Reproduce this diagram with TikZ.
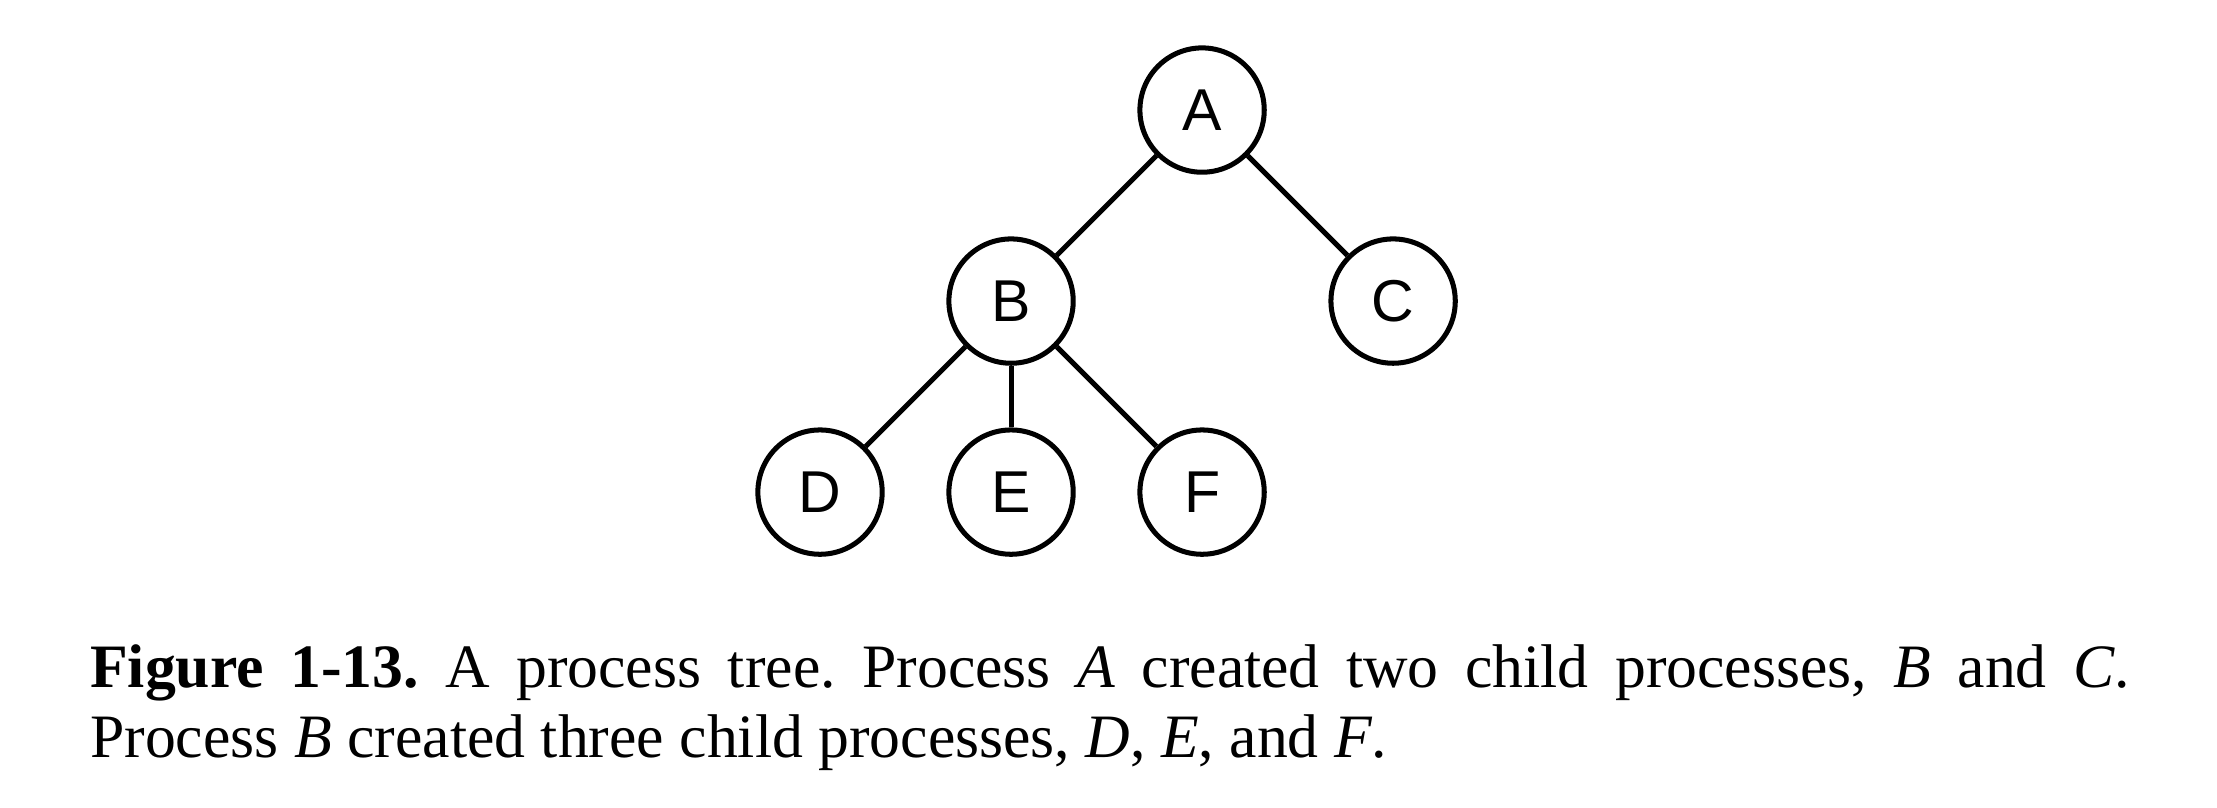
\documentclass[tikz,border=0pt]{standalone}
\usepackage{fontspec}
\setmainfont{Liberation Serif}
\newfontfamily\procfont{Liberation Sans}

\begin{document}
\begin{tikzpicture}[
  proc/.style={draw, circle, line width=0.85pt, minimum size=0.74cm, inner sep=0pt,
    font=\procfont\fontsize{10}{12}\selectfont},
  link/.style={line width=0.85pt}
]
\useasboundingbox (0,0) rectangle (13.196,-4.804);
%
% process tree
\node[proc] (A) at (7.155,-0.655) {A};
\node[proc] (B) at (6.018,-1.792) {B};
\node[proc] (C) at (8.292,-1.792) {C};
\node[proc] (D) at (4.881,-2.929) {D};
\node[proc] (E) at (6.018,-2.929) {E};
\node[proc] (F) at (7.155,-2.929) {F};
%
\draw[link] (A) -- (B);
\draw[link] (A) -- (C);
\draw[link] (B) -- (D);
\draw[link] (B) -- (E);
\draw[link] (B) -- (F);
%
% caption
\node[anchor=north west, inner sep=0pt, text width=12.14cm, align=justify,
  font=\fontsize{10.45}{11.9}\selectfont\frenchspacing] (cap) at (0.53,-3.83)
  {\textbf{Figure 1-13.} A process tree. Process \textit{A} created two child processes, \textit{B} and \textit{C}.\linebreak
   Process \textit{B} created three child processes, \textit{D}, \textit{E}, and \textit{F}.};
\end{tikzpicture}
\end{document}
